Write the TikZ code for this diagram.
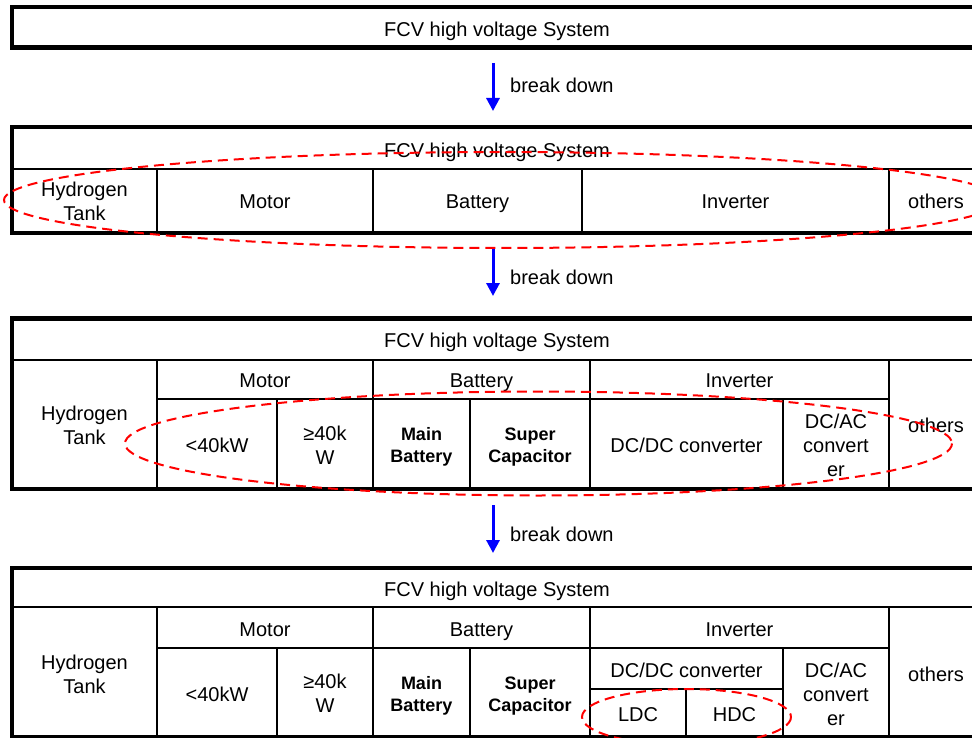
\documentclass[tikz,border=0pt]{standalone}
\usepackage{fontspec}
\setmainfont{Liberation Sans}
\usetikzlibrary{arrows.meta}
\newcommand{\mysa}{\rule[-4.85pt]{0pt}{24pt}}
\newcommand{\mysb}{\rule[-4.55pt]{0pt}{22pt}}
\begin{document}
\begin{tikzpicture}[x=1pt,y=-1pt,
  every node/.style={inner sep=0pt, align=center, font=\fontsize{20pt}{24pt}\selectfont},
  boldtxt/.style={font=\fontsize{18pt}{22pt}\selectfont\bfseries},
  outerline/.style={line width=4.5pt, line join=miter, black},
  innerline/.style={line width=2pt, black},
  reddash/.style={red, line width=2pt, dash pattern=on 10pt off 6pt},
  bdarrow/.style={blue, line width=3pt, -{Triangle[length=13pt,width=13pt]}},
  bdlabel/.style={anchor=west}]
\clip (0,0) rectangle (972,738);
\fill[white] (0,0) rectangle (972,738);

% ---------- Table 1 ----------
\draw[outerline] (985,7) -- (12,7) -- (12,47.5) -- (985,47.5);
\node (t1h) at (497,29) {\mysa FCV high voltage System};

% arrow 1
\coordinate (a1s) at (493,63);
\coordinate (a1e) at (493,111);
\draw[bdarrow] (a1s) -- (a1e);
\node[bdlabel] (l1) at (510,85) {\mysa break down};

% ---------- Table 2 ----------
\draw[innerline] (12,169) -- (985,169);
\foreach \x in {157,373,582,889} \draw[innerline] (\x,169) -- (\x,233);
\draw[outerline] (985,127) -- (12,127) -- (12,233) -- (985,233);
\node (t2h) at (497,150) {\mysa FCV high voltage System};
\node (t2a) at (84.5,201) {\mysa Hydrogen\\\mysa Tank};
\node (t2b) at (265,201) {\mysa Motor};
\node (t2c) at (477.5,201) {\mysa Battery};
\node (t2d) at (735.5,201) {\mysa Inverter};
\node (t2e) at (936,201) {\mysa others};

% arrow 2
\coordinate (a2s) at (493,248);
\coordinate (a2e) at (493,296);
\draw[bdarrow] (a2s) -- (a2e);
\node[bdlabel] (l2) at (510,277) {\mysa break down};

% ---------- Table 3 ----------
\draw[innerline] (12,360) -- (985,360);
\draw[innerline] (157,399) -- (889,399);
\foreach \x in {157,373,590,889} \draw[innerline] (\x,360) -- (\x,489);
\foreach \x in {277,470,783} \draw[innerline] (\x,399) -- (\x,489);
\draw[outerline] (985,318.5) -- (12,318.5) -- (12,489) -- (985,489);
\node (t3h) at (497,340) {\mysa FCV high voltage System};
\node (t3a) at (84.5,425) {\mysa Hydrogen\\\mysa Tank};
\node (t3b) at (265,380) {\mysa Motor};
\node (t3c) at (481.5,380) {\mysa Battery};
\node (t3d) at (739.5,380) {\mysa Inverter};
\node (t3e) at (936,425) {\mysa others};
\node (t3f) at (217,445) {\mysa <40kW};
\node (t3g) at (325,445) {\mysa ≥40k\\\mysa W};
\node[boldtxt] (t3i) at (421.5,445) {\mysb Main\\\mysb Battery};
\node[boldtxt] (t3j) at (530,445) {\mysb Super\\\mysb Capacitor};
\node (t3k) at (686.5,445) {\mysa DC/DC converter};
\node (t3l) at (836,445) {\mysa DC/AC\\\mysa convert\\\mysa er};

% arrow 3
\coordinate (a3s) at (493,505);
\coordinate (a3e) at (493,553);
\draw[bdarrow] (a3s) -- (a3e);
\node[bdlabel] (l3) at (510,534) {\mysa break down};

% ---------- Table 4 ----------
\draw[innerline] (12,607) -- (985,607);
\draw[innerline] (157,648) -- (889,648);
\draw[innerline] (590,689) -- (783,689);
\foreach \x in {157,373,590,889} \draw[innerline] (\x,607) -- (\x,737);
\foreach \x in {277,470,783} \draw[innerline] (\x,648) -- (\x,737);
\draw[innerline] (686,689) -- (686,737);
\draw[outerline] (985,568) -- (12,568) -- (12,737) -- (985,737);
\node (t4h) at (497,589) {\mysa FCV high voltage System};
\node (t4a) at (84.5,674) {\mysa Hydrogen\\\mysa Tank};
\node (t4b) at (265,629) {\mysa Motor};
\node (t4c) at (481.5,629) {\mysa Battery};
\node (t4d) at (739.5,629) {\mysa Inverter};
\node (t4e) at (936,674) {\mysa others};
\node (t4f) at (217,694) {\mysa <40kW};
\node (t4g) at (325,693.5) {\mysa ≥40k\\\mysa W};
\node[boldtxt] (t4i) at (421.5,694) {\mysb Main\\\mysb Battery};
\node[boldtxt] (t4j) at (530,694) {\mysb Super\\\mysb Capacitor};
\node (t4k) at (686.5,670) {\mysa DC/DC converter};
\node (t4m) at (638,714) {\mysa LDC};
\node (t4n) at (734.5,714) {\mysa HDC};
\node (t4l) at (836,694) {\mysa DC/AC\\\mysa convert\\\mysa er};

% ---------- red dashed ellipses ----------
\draw[reddash] (502,200) ellipse [x radius=498, y radius=48];
\draw[reddash] (538.5,443.5) ellipse [x radius=413.5, y radius=52];
\draw[reddash] (686.5,717) ellipse [x radius=104.5, y radius=28];
\end{tikzpicture}
\end{document}
